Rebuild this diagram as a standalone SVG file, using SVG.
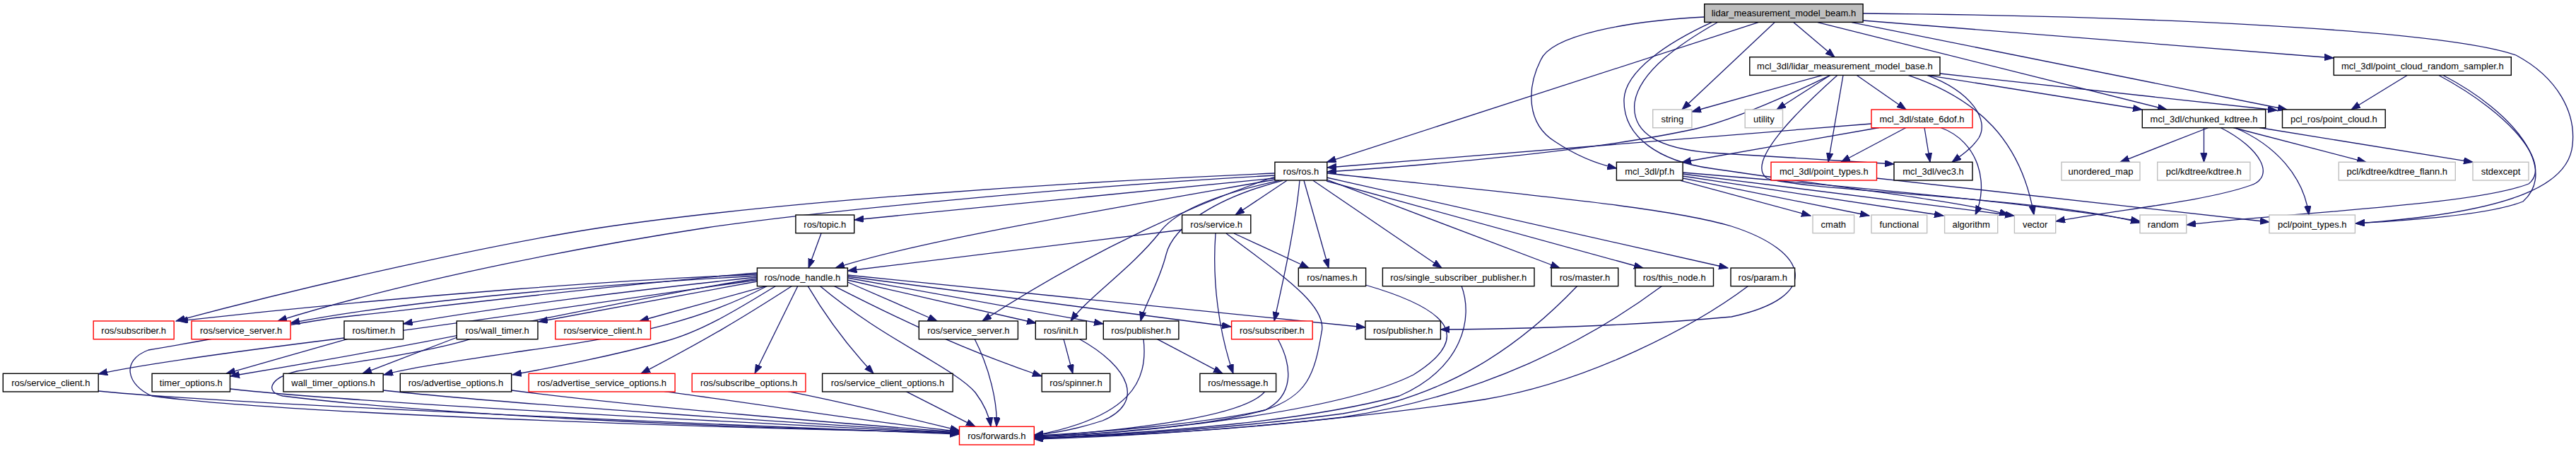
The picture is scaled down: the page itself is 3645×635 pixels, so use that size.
<svg xmlns="http://www.w3.org/2000/svg" width="3645" height="635" viewBox="0 0 3645 635">
<defs>
<marker id="ah" markerWidth="14" markerHeight="10" refX="13" refY="4.7" orient="auto" markerUnits="userSpaceOnUse"><path d="M0,0 L13,4.7 L0,9.4 Z" fill="#191970" stroke="#191970" stroke-width="1"/></marker>
<style>
.n rect{fill:#fff;stroke:#000;stroke-width:1.4}
.g rect{stroke:#bfbfbf}
.r rect{stroke:#ff0000}
.root rect{fill:#bfbfbf}
text{font-family:"Liberation Sans",Arial,sans-serif;font-size:13px;text-anchor:middle;fill:#000}
#edges path{fill:none;stroke:#191970;stroke-width:1.3;marker-end:url(#ah)}
</style>
</defs>
<rect width="3645" height="635" fill="#fff"/>
<g id="edges">
<path d="M2538,31.7 L2596,80.7"/>
<path d="M2488,31.7 L1877.5,229.3"/>
<path d="M2511,31.7 L2380,155"/>
<path d="M2411.7,24 C2300,30 2195,50 2180,85 C2160,125 2160,175 2200,200 C2230,220 2260,232 2287.4,238"/>
<path d="M2430,31.7 C2380,60 2320,100 2313,145 C2308,190 2350,210 2420,216 L2680,232"/>
<path d="M2422,31.7 C2360,60 2300,100 2298,140 C2296,195 2350,228 2420,238 C2600,265 2780,285 2842,304"/>
<path d="M2636,29 L3302,82"/>
<path d="M2636,19 C3000,22 3450,40 3560,78 C3620,110 3645,160 3640,205 C3635,260 3560,300 3333,316"/>
<path d="M2572,31.7 L3066,155"/>
<path d="M2620,31.7 L3236,155"/>
<path d="M2579,106.3 L2394,158"/>
<path d="M2590,106.3 L2514,155"/>
<path d="M2627,106.3 L2697,155"/>
<path d="M2608,106.3 L2587,229.3"/>
<path d="M2727,106.3 C2790,130 2815,170 2800,195 C2790,210 2775,220 2762,229.3"/>
<path d="M2700,106.3 C2800,140 2860,200 2878,304"/>
<path d="M2590,106.3 C2520,140 2450,170 2400,182 C2250,215 2000,235 1878,243"/>
<path d="M2600,106.3 C2540,160 2470,230 2500,252 C2550,270 2900,280 3028,315"/>
<path d="M2727,106.3 L3031,155"/>
<path d="M2745,104 L3222,156"/>
<path d="M2697,180.5 L2605,229.3"/>
<path d="M2723,180.5 L2731,229.3"/>
<path d="M2746,180.5 C2800,200 2815,260 2795,304"/>
<path d="M2648,175 L1878,237"/>
<path d="M2659,180.5 L2380,229.5"/>
<path d="M2378,255.3 L2562,305"/>
<path d="M2381,252 L2645,305"/>
<path d="M2381,249 L2750,305"/>
<path d="M2381,246 L2850,305"/>
<path d="M2381,244 C2600,262 2900,290 3028,313"/>
<path d="M2655,252 L3211,314"/>
<path d="M3407,106 L3327,155"/>
<path d="M3456,106 C3560,160 3620,240 3570,285 C3520,305 3400,312 3333,316"/>
<path d="M3450,106 C3560,165 3610,235 3578,260 C3500,290 3250,300 3094,318"/>
<path d="M3125,180.5 L3000,229.3"/>
<path d="M3118.5,180.5 L3118.5,229.3"/>
<path d="M3160,180.5 L3348,229.3"/>
<path d="M3197,180.5 L3499,229.3"/>
<path d="M3162,180.5 C3220,205 3260,250 3267,304"/>
<path d="M3142,180.5 C3200,210 3220,250 3185,262 C3120,285 3000,296 2909,313"/>
<path d="M1804,245 C1500,258 1100,285 850,322 C700,345 450,400 249,454"/>
<path d="M1804,248 C1500,265 1150,300 1000,322 C850,345 600,390 393,454"/>
<path d="M1804,252 L1209,311"/>
<path d="M1804,254 C1600,290 1300,340 1182,379"/>
<path d="M1804,250 C1700,285 1550,350 1390,454"/>
<path d="M1810,255.3 C1720,275 1660,300 1640,330 C1600,380 1540,420 1515,454"/>
<path d="M1815,255.3 C1720,280 1660,320 1650,360 C1640,400 1620,430 1614,454"/>
<path d="M1821,255.3 L1748,304"/>
<path d="M1839,255.3 C1833,320 1815,400 1803,454"/>
<path d="M1845,255.3 L1880,379"/>
<path d="M1858,255.3 L2040,379"/>
<path d="M1877,254 L2207,379"/>
<path d="M1877,256 L2325,379"/>
<path d="M1877,251 L2445,379"/>
<path d="M1878,245 C2100,270 2350,290 2450,320 C2560,355 2580,420 2450,448 C2300,462 2150,465 2038.4,466"/>
<path d="M1162,330 L1144,379"/>
<path d="M1672.6,325 L1199.4,383"/>
<path d="M1746,330 L1852,379"/>
<path d="M1735,330 C1800,380 1880,430 1870,470 C1860,530 1850,560 1790,580 C1700,600 1550,612 1463.3,616"/>
<path d="M1720,330 C1715,400 1725,470 1745,528.3"/>
<path d="M1071.4,388 C900,395 600,415 253,454"/>
<path d="M1071.4,390 C900,400 600,420 411,457"/>
<path d="M1071.4,392 C900,410 700,435 570.6,458"/>
<path d="M1071.4,398 L762,455"/>
<path d="M1085,404.3 L905,454"/>
<path d="M1071.4,394 C900,420 700,470 326,532"/>
<path d="M1086,404.3 C1000,450 900,475 750,495 C650,510 580,520 543,530"/>
<path d="M1098,404.3 C1040,440 990,470 940,483 C860,505 780,520 725,530"/>
<path d="M1121,404.3 C1050,450 1000,480 907,528.3"/>
<path d="M1129,404.3 L1068,528.3"/>
<path d="M1143,404.3 C1170,450 1200,490 1236,528.3"/>
<path d="M1199.4,399 L1326,454"/>
<path d="M1199.4,396 L1466,457"/>
<path d="M1199.4,393 L1561,458"/>
<path d="M1199.4,391 L1742,462"/>
<path d="M1199.4,389 L1931.9,463"/>
<path d="M1180,404.3 C1250,440 1350,490 1474,532"/>
<path d="M1160,404.3 C1250,480 1350,520 1380,555 C1395,575 1400,590 1402,603.3"/>
<path d="M1071.4,386 C900,400 650,430 470,450 C400,460 300,480 210,495 C170,510 180,545 215,560 C400,585 1000,605 1357.5,612"/>
<path d="M1071.4,396 C900,420 600,465 487,478 C350,495 200,515 139.2,529"/>
<path d="M492,479.3 L320,528.3"/>
<path d="M647,477 L513,528.3"/>
<path d="M666,479.3 C600,500 480,515 420,525 C380,535 375,555 400,560 C600,585 1000,605 1357.5,612"/>
<path d="M139.2,553 C300,570 1000,600 1357.5,614"/>
<path d="M325.5,550 C500,570 1100,600 1357.5,613"/>
<path d="M542.2,552 C700,570 1150,600 1357.5,612"/>
<path d="M723.7,552 C900,575 1200,600 1357.5,611"/>
<path d="M940,553.7 C1100,575 1250,600 1357.5,610"/>
<path d="M1115,553.7 C1200,570 1300,595 1357.5,609"/>
<path d="M1282,553.7 L1380,603.3"/>
<path d="M1379,479.3 C1400,520 1412,570 1410,603.3"/>
<path d="M1527,479.3 C1600,520 1620,570 1560,595 C1520,608 1490,613 1463.3,615"/>
<path d="M1618,479.3 C1625,540 1600,590 1463.3,616"/>
<path d="M1637,479.3 L1730,528.3"/>
<path d="M1505,479.3 L1518,528.3"/>
<path d="M1808,479.3 C1830,520 1830,560 1790,580 C1700,605 1550,615 1463.3,617"/>
<path d="M1790,553.7 C1760,590 1600,608 1463.3,618"/>
<path d="M1932,403 C2060,440 2080,480 2000,530 C1900,580 1650,610 1463.3,618"/>
<path d="M2068,404.3 C2085,450 2070,520 1980,560 C1850,595 1650,612 1463.3,619"/>
<path d="M2232,404.3 C2150,490 2050,560 1900,585 C1750,605 1600,615 1463.3,620"/>
<path d="M2352,404.3 C2250,480 2100,560 1900,590 C1750,608 1600,616 1463.3,620"/>
<path d="M2474,404.3 C2400,460 2250,540 2100,565 C1900,595 1650,616 1463.3,621"/>
</g>
<g id="n_lidar" class="n root"><rect x="2411.7" y="5.7" width="224.4" height="25.7"/><text x="2523.9" y="23.3">lidar_measurement_model_beam.h</text></g>
<g id="n_base" class="n"><rect x="2475.8" y="80.7" width="269.2" height="25.7"/><text x="2610.4" y="98.3">mcl_3dl/lidar_measurement_model_base.h</text></g>
<g id="n_sampler" class="n"><rect x="3302.3" y="80.7" width="251" height="25.7"/><text x="3427.8" y="98.3">mcl_3dl/point_cloud_random_sampler.h</text></g>
<g id="n_string" class="n g"><rect x="2338.7" y="155" width="55.2" height="25.7"/><text x="2366.3" y="172.6">string</text></g>
<g id="n_utility" class="n g"><rect x="2469.2" y="155" width="53.3" height="25.7"/><text x="2495.9" y="172.6">utility</text></g>
<g id="n_state" class="n r"><rect x="2648" y="155" width="143" height="25.7"/><text x="2719.5" y="172.6">mcl_3dl/state_6dof.h</text></g>
<g id="n_chunked" class="n"><rect x="3031.3" y="155" width="174.4" height="25.7"/><text x="3118.5" y="172.6">mcl_3dl/chunked_kdtree.h</text></g>
<g id="n_pclros" class="n"><rect x="3229.5" y="155" width="145.7" height="25.7"/><text x="3302.4" y="172.6">pcl_ros/point_cloud.h</text></g>
<g id="n_ros" class="n"><rect x="1803.9" y="229.3" width="73.9" height="25.7"/><text x="1840.9" y="246.9">ros/ros.h</text></g>
<g id="n_pf" class="n"><rect x="2287.4" y="229.3" width="93.7" height="25.7"/><text x="2334.3" y="246.9">mcl_3dl/pf.h</text></g>
<g id="n_mpt" class="n r"><rect x="2506" y="229.3" width="149.5" height="25.7"/><text x="2580.8" y="246.9">mcl_3dl/point_types.h</text></g>
<g id="n_vec3" class="n"><rect x="2680" y="229.3" width="111" height="25.7"/><text x="2735.5" y="246.9">mcl_3dl/vec3.h</text></g>
<g id="n_umap" class="n g"><rect x="2917" y="229.3" width="111" height="25.7"/><text x="2972.5" y="246.9">unordered_map</text></g>
<g id="n_kdtree" class="n g"><rect x="3052.7" y="229.3" width="131.2" height="25.7"/><text x="3118.3" y="246.9">pcl/kdtree/kdtree.h</text></g>
<g id="n_flann" class="n g"><rect x="3309.3" y="229.3" width="165" height="25.7"/><text x="3391.8" y="246.9">pcl/kdtree/kdtree_flann.h</text></g>
<g id="n_stdexcept" class="n g"><rect x="3499" y="229.3" width="79" height="25.7"/><text x="3538.5" y="246.9">stdexcept</text></g>
<g id="n_topic" class="n"><rect x="1125.9" y="304" width="82.8" height="25.7"/><text x="1167.3" y="321.6">ros/topic.h</text></g>
<g id="n_service" class="n"><rect x="1672.6" y="304" width="97.2" height="25.7"/><text x="1721.2" y="321.6">ros/service.h</text></g>
<g id="n_cmath" class="n g"><rect x="2565" y="304" width="58.6" height="25.7"/><text x="2594.3" y="321.6">cmath</text></g>
<g id="n_functional" class="n g"><rect x="2648" y="304" width="78.7" height="25.7"/><text x="2687.4" y="321.6">functional</text></g>
<g id="n_algorithm" class="n g"><rect x="2751.6" y="304" width="75.1" height="25.7"/><text x="2789.2" y="321.6">algorithm</text></g>
<g id="n_vector" class="n g"><rect x="2850.4" y="304" width="58.3" height="25.7"/><text x="2879.6" y="321.6">vector</text></g>
<g id="n_random" class="n g"><rect x="3028" y="304" width="65.8" height="25.7"/><text x="3060.9" y="321.6">random</text></g>
<g id="n_ppt" class="n g"><rect x="3211" y="304" width="121.4" height="25.7"/><text x="3271.7" y="321.6">pcl/point_types.h</text></g>
<g id="n_nh" class="n"><rect x="1071.4" y="379" width="128" height="25.7"/><text x="1135.4" y="396.6">ros/node_handle.h</text></g>
<g id="n_names" class="n"><rect x="1837.3" y="379" width="95.3" height="25.7"/><text x="1885" y="396.6">ros/names.h</text></g>
<g id="n_ssp" class="n"><rect x="1956.4" y="379" width="214.6" height="25.7"/><text x="2063.7" y="396.6">ros/single_subscriber_publisher.h</text></g>
<g id="n_master" class="n"><rect x="2195.2" y="379" width="94.5" height="25.7"/><text x="2242.5" y="396.6">ros/master.h</text></g>
<g id="n_thisnode" class="n"><rect x="2313.8" y="379" width="110.7" height="25.7"/><text x="2369.2" y="396.6">ros/this_node.h</text></g>
<g id="n_param" class="n"><rect x="2449" y="379" width="90.6" height="25.7"/><text x="2494.3" y="396.6">ros/param.h</text></g>
<g id="n_subL" class="n r"><rect x="132.2" y="454" width="114" height="25.7"/><text x="189.2" y="471.6">ros/subscriber.h</text></g>
<g id="n_ssL" class="n r"><rect x="271.1" y="454" width="140" height="25.7"/><text x="341.1" y="471.6">ros/service_server.h</text></g>
<g id="n_timer" class="n"><rect x="487" y="454" width="83.6" height="25.7"/><text x="528.8" y="471.6">ros/timer.h</text></g>
<g id="n_walltimer" class="n"><rect x="646.3" y="454" width="114.7" height="25.7"/><text x="703.7" y="471.6">ros/wall_timer.h</text></g>
<g id="n_scR" class="n r"><rect x="785.9" y="454" width="134.6" height="25.7"/><text x="853.2" y="471.6">ros/service_client.h</text></g>
<g id="n_ssB" class="n"><rect x="1300.3" y="454" width="140.1" height="25.7"/><text x="1370.4" y="471.6">ros/service_server.h</text></g>
<g id="n_init" class="n"><rect x="1465.3" y="454" width="71.9" height="25.7"/><text x="1501.3" y="471.6">ros/init.h</text></g>
<g id="n_pub" class="n"><rect x="1561.3" y="454" width="106.6" height="25.7"/><text x="1614.6" y="471.6">ros/publisher.h</text></g>
<g id="n_subR" class="n r"><rect x="1742.6" y="454" width="114.6" height="25.7"/><text x="1799.9" y="471.6">ros/subscriber.h</text></g>
<g id="n_pub2" class="n"><rect x="1931.9" y="454" width="106.5" height="25.7"/><text x="1985.2" y="471.6">ros/publisher.h</text></g>
<g id="n_scB" class="n"><rect x="4.3" y="528.3" width="134.9" height="25.7"/><text x="71.8" y="545.9">ros/service_client.h</text></g>
<g id="n_timeropt" class="n"><rect x="215.1" y="528.3" width="110.4" height="25.7"/><text x="270.3" y="545.9">timer_options.h</text></g>
<g id="n_wto" class="n"><rect x="401" y="528.3" width="141.2" height="25.7"/><text x="471.6" y="545.9">wall_timer_options.h</text></g>
<g id="n_adv" class="n"><rect x="566.3" y="528.3" width="157.4" height="25.7"/><text x="645" y="545.9">ros/advertise_options.h</text></g>
<g id="n_aso" class="n r"><rect x="748.2" y="528.3" width="206.9" height="25.7"/><text x="851.7" y="545.9">ros/advertise_service_options.h</text></g>
<g id="n_subo" class="n r"><rect x="979.2" y="528.3" width="160.7" height="25.7"/><text x="1059.6" y="545.9">ros/subscribe_options.h</text></g>
<g id="n_sco" class="n"><rect x="1163.6" y="528.3" width="184.6" height="25.7"/><text x="1255.9" y="545.9">ros/service_client_options.h</text></g>
<g id="n_spinner" class="n"><rect x="1474.2" y="528.3" width="96.5" height="25.7"/><text x="1522.5" y="545.9">ros/spinner.h</text></g>
<g id="n_message" class="n"><rect x="1697.9" y="528.3" width="107.7" height="25.7"/><text x="1751.8" y="545.9">ros/message.h</text></g>
<g id="n_forwards" class="n r"><rect x="1357.5" y="603.3" width="105.8" height="25.7"/><text x="1410.4" y="620.9">ros/forwards.h</text></g>
</svg>
